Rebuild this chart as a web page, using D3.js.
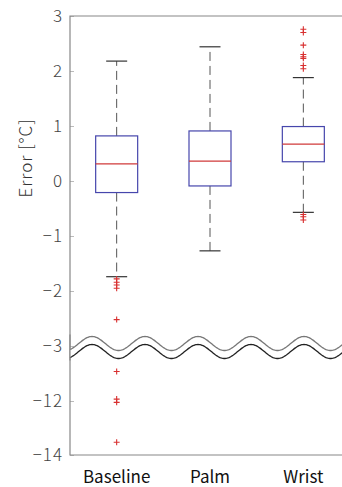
<!DOCTYPE html>
<html>
<head>
<meta charset="utf-8">
<script src="https://cdn.jsdelivr.net/npm/d3@7"></script>
<style>
  html, body { margin: 0; padding: 0; background: #fff; }
  svg { display: block; }
  text { font-family: "Noto Sans CJK JP", "Noto Sans", sans-serif; }
</style>
</head>
<body>
<div id="chart"></div>
<script>
const categories = ["Baseline", "Palm", "Wrist"];
const q1 = [-0.21, -0.09, 0.35];
const medians = [0.31, 0.36, 0.67];
const q3 = [0.82, 0.91, 0.99];
const whiskerLow = [-1.74, -1.27, -0.57];
const whiskerHigh = [2.18, 2.44, 1.88];
const outliers = [
  [-1.78, -1.84, -1.89, -1.95, -2.52, -10.91, -11.93, -12.05, -13.53],
  [],
  [2.76, 2.7, 2.47, 2.3, 2.26, 2.23, 2.1, 2.04, -0.61, -0.65, -0.71]
];
const tickValues = [3, 2, 1, 0, -1, -2, -3, -12, -14];

const width = 342;
const height = 487;
const margin = { top: 16, right: -8, bottom: 32, left: 70 };

const svg = d3
  .select("#chart")
  .append("svg")
  .attr("width", width)
  .attr("height", height);

const x = d3
  .scalePoint()
  .domain(categories)
  .range([margin.left, width - margin.right])
  .padding(0.5);
const boxW = x.step() * 0.45;

// broken axis: upper part -3..3, lower part -14..-10
const y = d3
  .scaleLinear()
  .domain([-14, -10, -3, 3])
  .range([height - margin.bottom, 347, 346, margin.top]);

// axis with inward ticks
const yAxis = svg
  .append("g")
  .attr("transform", `translate(${margin.left},0)`)
  .call(
    d3.axisLeft(y).tickValues(tickValues).tickSizeInner(-4).tickSizeOuter(0).tickPadding(7)
  );
yAxis.select(".domain").remove();
yAxis.selectAll(".tick line").attr("stroke", "#bbb");
yAxis
  .selectAll(".tick text")
  .attr("fill", "#444")
  .attr("font-size", 17)
  .attr("font-weight", 300)
  .attr("letter-spacing", 1);

// frame
const x0 = margin.left, x1 = width - margin.right;
const yT = margin.top, yB = height - margin.bottom;
svg.append("path")
  .attr("d", `M${x0},${yT}H${x1}V${yB}H${x0}Z`)
  .attr("fill", "none")
  .attr("stroke", "#888")
  .attr("stroke-width", 1.2);

const g = svg.append("g");

categories.forEach((c, i) => {
  const cx = x(c);
  // whiskers
  g.append("line")
    .attr("x1", cx).attr("x2", cx)
    .attr("y1", y(q3[i])).attr("y2", y(whiskerHigh[i]))
    .attr("stroke", "#555").attr("stroke-dasharray", "9,5");
  g.append("line")
    .attr("x1", cx).attr("x2", cx)
    .attr("y1", y(q1[i])).attr("y2", y(whiskerLow[i]))
    .attr("stroke", "#555").attr("stroke-dasharray", "9,5");
  [whiskerHigh[i], whiskerLow[i]].forEach((v) => {
    g.append("line")
      .attr("x1", cx - boxW / 4).attr("x2", cx + boxW / 4)
      .attr("y1", y(v)).attr("y2", y(v))
      .attr("stroke", "#333").attr("stroke-width", 1.2);
  });
  // box
  g.append("rect")
    .attr("x", cx - boxW / 2)
    .attr("width", boxW)
    .attr("y", y(q3[i]))
    .attr("height", y(q1[i]) - y(q3[i]))
    .attr("fill", "none")
    .attr("stroke", "#4646ac")
    .attr("stroke-width", 1.2);
  g.append("line")
    .attr("x1", cx - boxW / 2).attr("x2", cx + boxW / 2)
    .attr("y1", y(medians[i])).attr("y2", y(medians[i]))
    .attr("stroke", "#d03a3a").attr("stroke-width", 1.2);
  // outliers
  g.selectAll(null)
    .data(outliers[i])
    .join("path")
    .attr("d", (d) => `M${cx - 3},${y(d)}h6M${cx},${y(d) - 3}v6`)
    .attr("stroke", "#d83030")
    .attr("stroke-width", 1.1);
});

// break marks (wavy lines)
const breakY = (y(-3) + y(-10)) / 2;
const period = 53;
const amp = 7;
const wx = d3.range(x0, width + 2, 1);
const wave = (off) => (px) => breakY + off - amp * Math.cos((2 * Math.PI * (px - 92)) / period);
const upper = wave(-3), lower = wave(5);
svg.append("path")
  .attr("d", d3.area().x((d) => d).y0(upper).y1(lower)(wx))
  .attr("fill", "#fff");
svg.append("path")
  .attr("d", d3.line().x((d) => d).y(upper)(wx))
  .attr("fill", "none").attr("stroke", "#777").attr("stroke-width", 1.3);
svg.append("path")
  .attr("d", d3.line().x((d) => d).y(lower)(wx))
  .attr("fill", "none").attr("stroke", "#222").attr("stroke-width", 1.3);
svg.append("line")
  .attr("x1", x0).attr("x2", x0).attr("y1", breakY - 12).attr("y2", breakY + 14)
  .attr("stroke", "#888").attr("stroke-width", 1.2);

// category labels
svg.append("g")
  .selectAll("text")
  .data(categories)
  .join("text")
  .attr("x", (d) => x(d))
  .attr("y", 478)
  .attr("text-anchor", "middle")
  .attr("dominant-baseline", "middle")
  .attr("font-size", 17)
  .attr("fill", "#111")
  .text((d) => d);

svg.append("text")
  .attr("transform", `translate(27,${158}) rotate(-90)`)
  .attr("text-anchor", "middle")
  .attr("dominant-baseline", "middle")
  .attr("font-size", 17)
  .attr("font-weight", 300)
  .attr("letter-spacing", 1)
  .attr("fill", "#333")
  .text("Error [°C]");
</script>
</body>
</html>
